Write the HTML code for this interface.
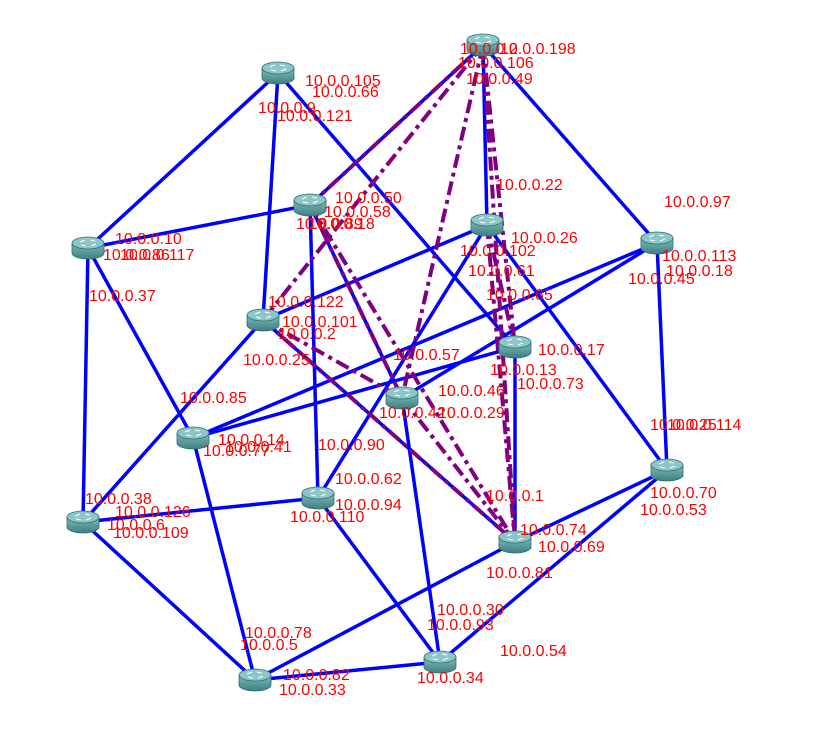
<!DOCTYPE html>
<html><head><meta charset="utf-8"><style>
html,body{margin:0;padding:0;background:#fff;}
svg{display:block;}
text{font-family:"Liberation Sans",sans-serif;font-size:16px;fill:#ff0000;}
</style></head><body>
<svg id="net" width="832" height="736" viewBox="0 0 832 736">
<defs>
<linearGradient id="rg" x1="0" y1="0" x2="0" y2="1"><stop offset="0" stop-color="#7fbcbc"/><stop offset="1" stop-color="#3f7f80"/></linearGradient>
</defs>
<g id="edges"></g><g id="nodes"></g><g id="labels"></g>
</svg>
<script>
const nodeIds=["A","B","C","D","E","F","G","H","I","J","K","L","M","N","O","P"];
const nodeX=[483,278,88,310,487,657,263,515,402,193,667,318,83,515,440,255];
const nodeY=[45,73,248,205,225,243,320,347,398,438,470,498,522,542,662,680];
const blueEdges=[["B","C"],["B","G"],["B","H"],["A","D"],["A","E"],["A","F"],["C","D"],["C","J"],["C","M"],["D","L"],["D","I"],["E","G"],["E","L"],["E","K"],["F","I"],["F","J"],["F","K"],["G","M"],["G","N"],["H","J"],["H","N"],["I","O"],["J","P"],["L","M"],["L","O"],["M","P"],["N","P"],["K","N"],["K","O"],["P","O"]];
const purpleEdges=[["A","D"],["A","G"],["A","I"],["A","N"],["A","H"],["G","I"],["G","N"],["D","N"],["I","N"],["E","H"],["E","N"],["D","I"]];
const labelText=["10.0.0.2","10.0.0.198","10.0.0.106","10.0.0.49","10.0.0.105","10.0.0.66","10.0.0.9","10.0.0.121","10.0.0.10","10.0.0.86","10.0.0.117","10.0.0.37","10.0.0.50","10.0.0.58","10.0.0.18","10.0.0.89","10.0.0.22","10.0.0.102","10.0.0.26","10.0.0.61","10.0.0.65","10.0.0.97","10.0.0.113","10.0.0.18","10.0.0.45","10.0.0.122","10.0.0.101","10.0.0.2","10.0.0.25","10.0.0.57","10.0.0.17","10.0.0.13","10.0.0.73","10.0.0.46","10.0.0.42","10.0.0.29","10.0.0.85","10.0.0.14","10.0.0.77","10.0.0.41","10.0.0.90","10.0.0.25","10.0.0.114","10.0.0.62","10.0.0.94","10.0.0.110","10.0.0.1","10.0.0.70","10.0.0.53","10.0.0.38","10.0.0.126","10.0.0.6","10.0.0.109","10.0.0.74","10.0.0.69","10.0.0.81","10.0.0.30","10.0.0.93","10.0.0.54","10.0.0.78","10.0.0.5","10.0.0.82","10.0.0.34","10.0.0.33"];
const labelX=[460,500,458,466,305,312,258,277,115,103,120,89,335,324,308,296,496,460,511,468,486,664,662,666,628,268,282,278,243,393,538,490,517,438,379,438,180,218,203,225,318,650,667,335,335,290,486,650,640,85,115,107,113,520,538,486,437,427,500,245,240,283,417,279];
const labelY=[54,54,68,84,86,97,113,121,244,260,260,301,203,217,229,229,190,256,243,276,300,207,261,276,284,307,327,339,365,360,355,375,389,396,418,418,403,445,456,452,450,430,430,484,510,522,501,498,515,504,517,530,538,535,552,578,615,630,656,638,650,680,683,695];
const NS="http://www.w3.org/2000/svg";
const eg=document.getElementById('edges'),ng=document.getElementById('nodes'),lg=document.getElementById('labels');
function px(id){return nodeX[nodeIds.indexOf(id)];}
function py(id){return nodeY[nodeIds.indexOf(id)];}
blueEdges.forEach((e)=>{const l=document.createElementNS(NS,'line');
l.setAttribute('x1',px(e[0]));l.setAttribute('y1',py(e[0]));l.setAttribute('x2',px(e[1]));l.setAttribute('y2',py(e[1]));
l.setAttribute('stroke','#0000ff');l.setAttribute('stroke-width','3.5');


eg.appendChild(l);});
purpleEdges.forEach((e)=>{const l=document.createElementNS(NS,'line');
l.setAttribute('x1',px(e[0]));l.setAttribute('y1',py(e[0]));l.setAttribute('x2',px(e[1]));l.setAttribute('y2',py(e[1]));
l.setAttribute('stroke','#800080');l.setAttribute('stroke-width','4');l.setAttribute('stroke-dasharray','14 5 4 5');


eg.appendChild(l);});
nodeIds.forEach((id,i)=>{const g=document.createElementNS(NS,'g');


const x=nodeX[i],y=nodeY[i];
g.innerHTML=`<path d="M${x-16} ${y-5} v10 a16 6 0 0 0 32 0 v-10 z" fill="url(#rg)" stroke="#2f6f70" stroke-width="0.8"/><ellipse cx="${x}" cy="${y-5}" rx="16" ry="6" fill="#8cc6c6" stroke="#2f6f70" stroke-width="0.8"/><path d="M${x-8} ${y-6} l5 -2 M${x+8} ${y-4} l-5 2 M${x-7} ${y-3} l5 1 M${x+7} ${y-7} l-5 -1" stroke="#fff" stroke-width="1"/>`;
ng.appendChild(g);});
labelText.forEach((t,i)=>{const tx=document.createElementNS(NS,'text');
tx.setAttribute('x',labelX[i]);tx.setAttribute('y',labelY[i]);tx.textContent=t;


lg.appendChild(tx);});
</script>
</body></html>
